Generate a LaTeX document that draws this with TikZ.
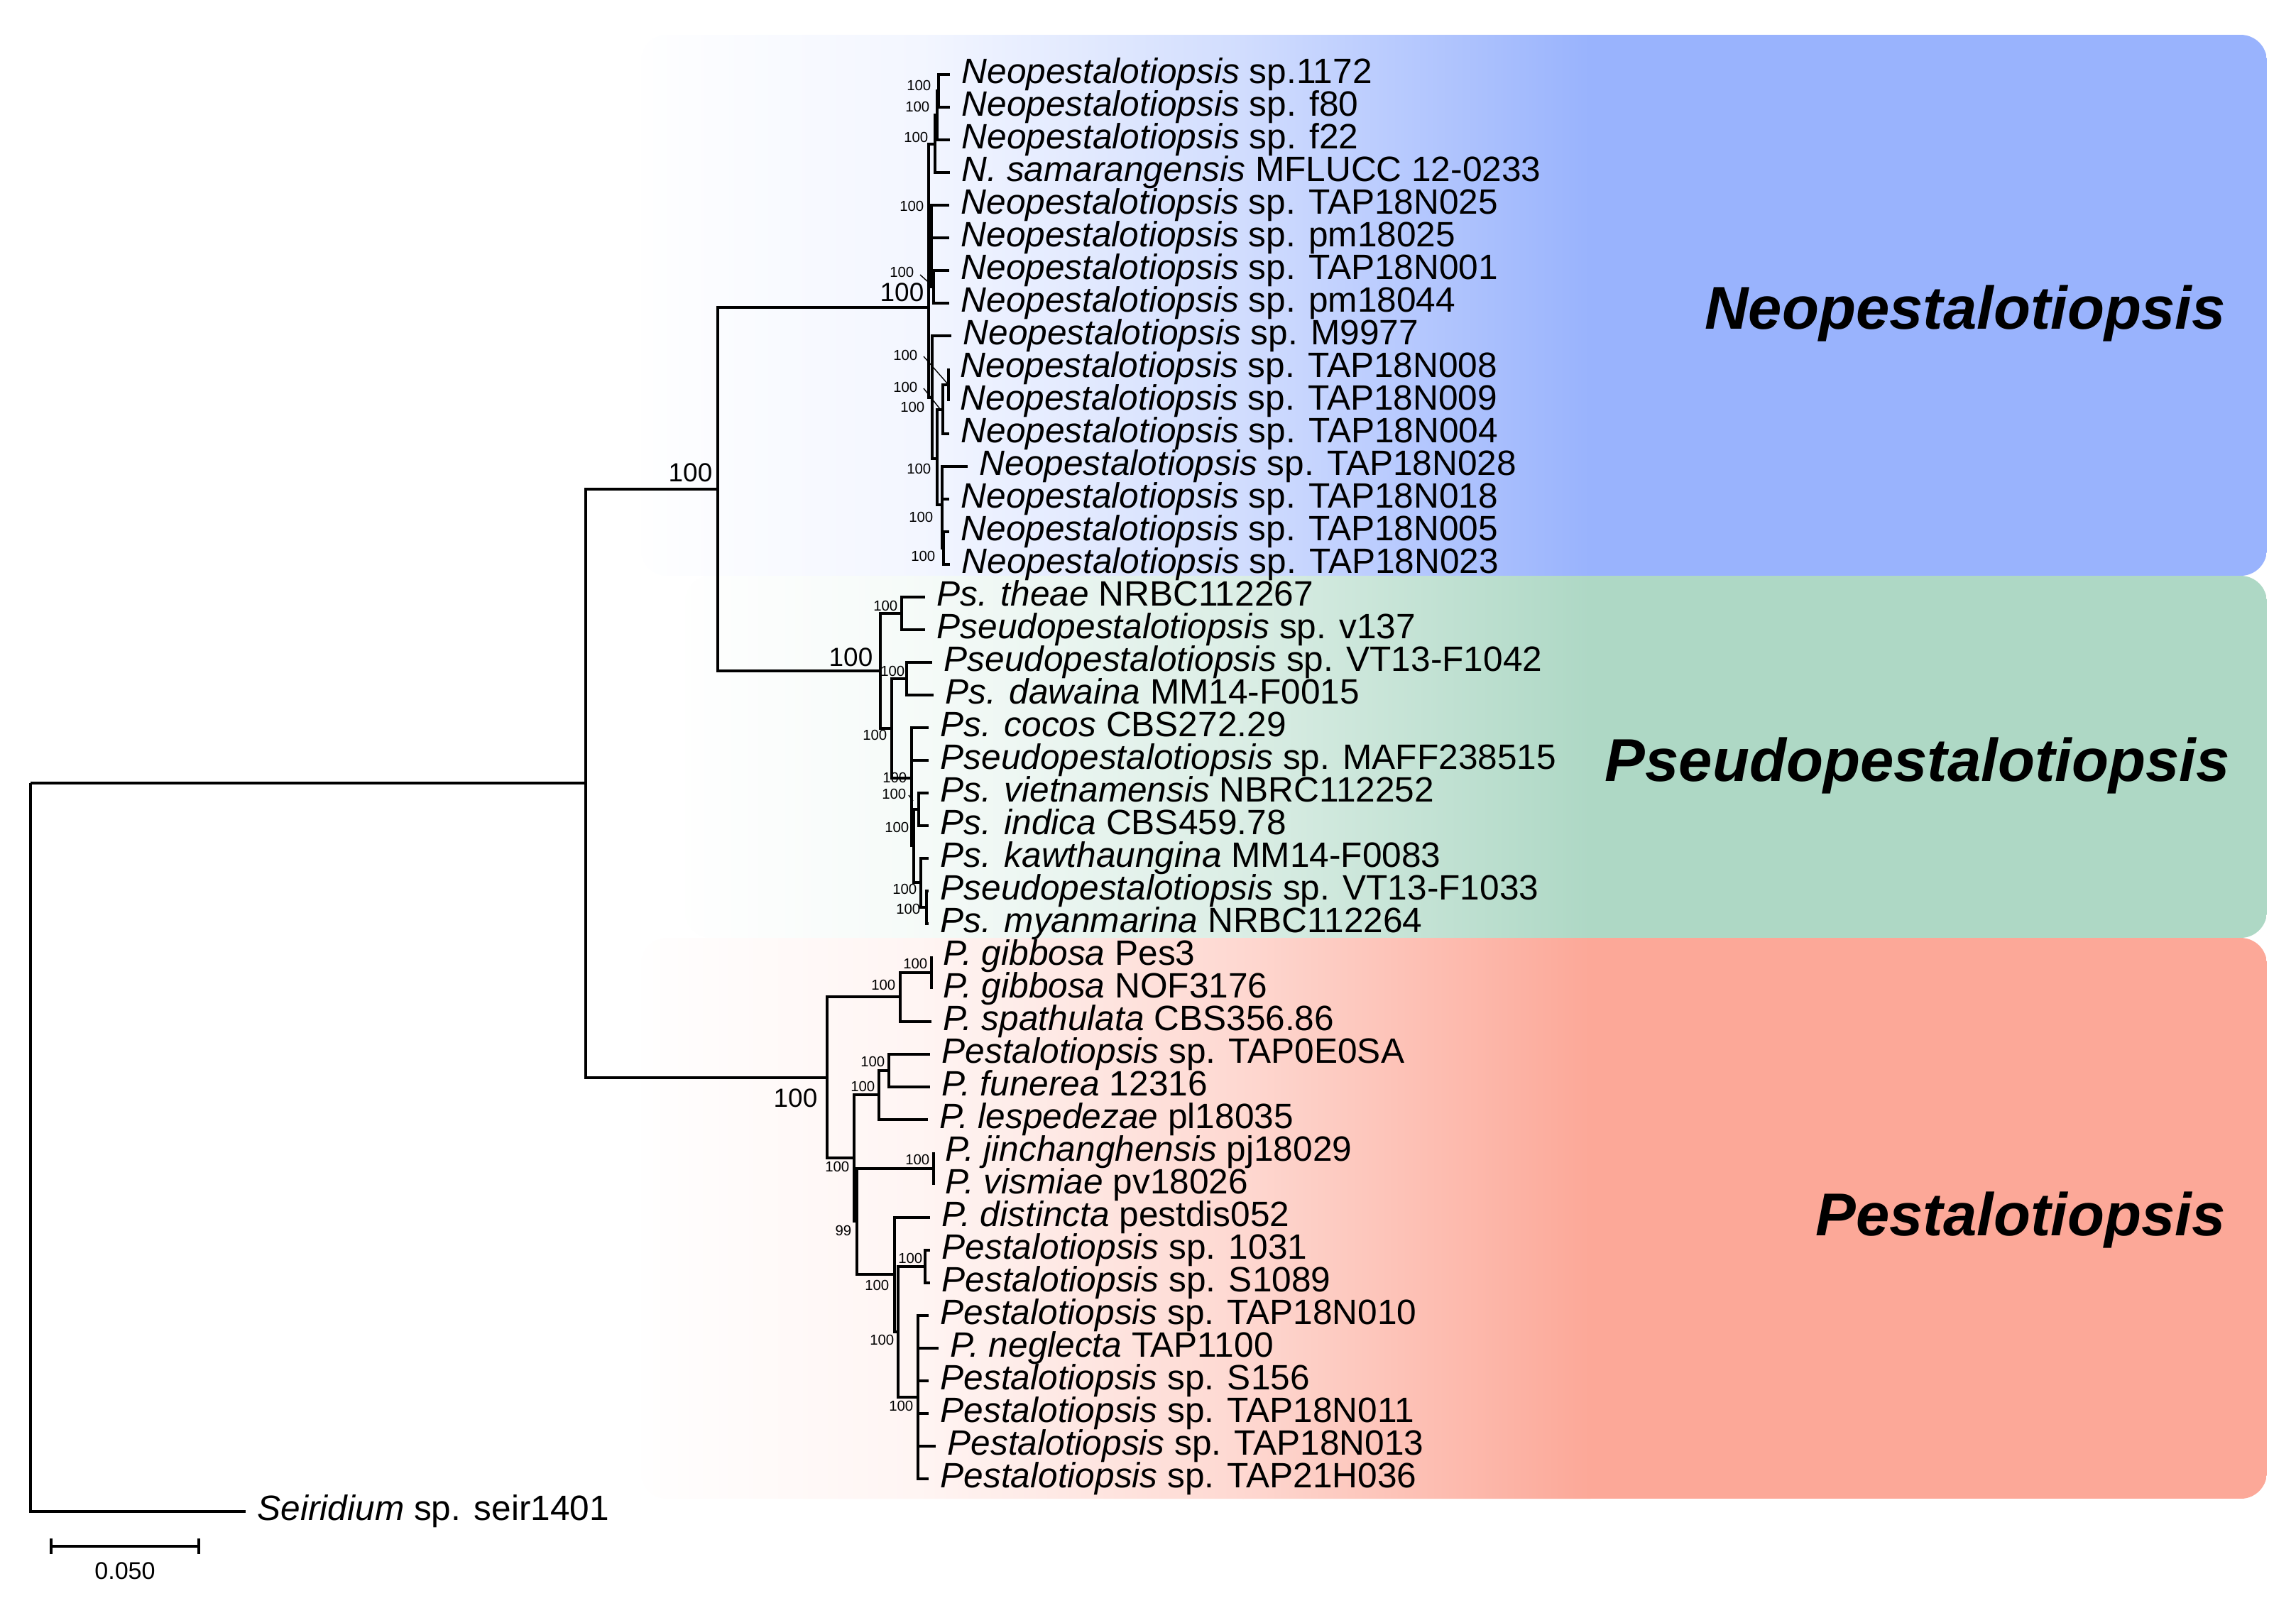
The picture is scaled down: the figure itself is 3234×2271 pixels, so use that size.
\documentclass[tikz,border=0pt]{standalone}
\usepackage{fontspec}
\setmainfont{Liberation Sans}
\definecolor{neoC}{RGB}{153,179,253}
\definecolor{pseC}{RGB}{174,216,197}
\definecolor{pesC}{RGB}{252,168,152}
\newcommand\tip[4]{\coordinate (#1) at (#2,#3); \node[tl] (#1l) at ({#2+16},{#3+12}) {#4};}
\newcommand\cladebox[4]{%
  \begin{scope}
    \clip[rounded corners=0.37cm] (#2,#3) rectangle (3193,#4);
    \shade[left color=#1!1!white, right color=#1!12!white] (#2,#3) rectangle (1302,#4);
    \shade[left color=#1!12!white, right color=#1!45!white] (1300,#3) rectangle (1752,#4);
    \shade[left color=#1!45!white, right color=#1] (1750,#3) rectangle (2240,#4);
    \fill[#1] (2238,#3) rectangle (3193,#4);
  \end{scope}}
\begin{document}
\begin{tikzpicture}[x=0.01cm,y=-0.01cm,
  tl/.style={anchor=base west, inner sep=0pt, font=\fontsize{14.1}{17}\selectfont},
  bs/.style={anchor=east, inner sep=0pt, font=\fontsize{5.8}{7}\selectfont},
  bsbig/.style={anchor=east, inner sep=0pt, font=\fontsize{10.5}{12}\selectfont},
  clade/.style={anchor=base east, inner sep=0pt, font=\fontsize{24.2}{29}\selectfont\bfseries\itshape},
  br/.style={line width=1.1pt},
  ptr/.style={line width=0.4pt}]
\fill[white] (0,0) rectangle (3234,2271);
\useasboundingbox (0,0) rectangle (3234,2271);
% clade backgrounds
\cladebox{neoC}{903}{49}{811}
\cladebox{pseC}{965}{811}{1321}
\cladebox{pesC}{903}{1321}{2111}
\node[clade] (cN) at (3135,463) {Neopestalotiopsis};
\node[clade] (cPs) at (3141,1100) {Pseudopestalotiopsis};
\node[clade] (cPe) at (3135,1740) {Pestalotiopsis};
% internal nodes
\coordinate (R) at (43,1103);
\coordinate (I) at (825,1103);
\coordinate (NP) at (1011,689);
\coordinate (C0) at (1308,433);
\coordinate (D1) at (1317,203);
\coordinate (D2) at (1320,162);
\coordinate (N1) at (1322,128);
\coordinate (E) at (1312,343);
\coordinate (E2) at (1315,404);
\coordinate (C1) at (1313,560);
\coordinate (C2) at (1320,646);
\coordinate (C3) at (1328,577);
\coordinate (C4) at (1336,542);
\coordinate (C5) at (1327,711);
\coordinate (C6) at (1329,772);
\coordinate (P0) at (1240,945);
\coordinate (P1) at (1270,864);
\coordinate (P2) at (1256,1026);
\coordinate (P3) at (1277,956);
\coordinate (P4) at (1284,1096);
\coordinate (P4b) at (1287,1191);
\coordinate (P5) at (1294,1140);
\coordinate (P6) at (1297,1243);
\coordinate (P7) at (1305,1278);
\coordinate (Q0) at (1165,1518);
\coordinate (Q1) at (1268,1404);
\coordinate (Q2) at (1312,1370);
\coordinate (Q3) at (1203,1631);
\coordinate (Q3b) at (1207,1720);
\coordinate (Q4) at (1238,1542);
\coordinate (Q5) at (1252,1508);
\coordinate (Q6) at (1315,1646);
\coordinate (Q7) at (1260,1795);
\coordinate (Q8) at (1265,1876);
\coordinate (Q9) at (1303,1784);
\coordinate (Q10) at (1293,1968);
% tips
\tip{r0}{1338}{105}{\textit{Neopestalotiopsis} sp.1172}
\tip{r1}{1338}{151}{\textit{Neopestalotiopsis} sp. f80}
\tip{r2}{1338}{197}{\textit{Neopestalotiopsis} sp. f22}
\tip{r3}{1338}{243}{\textit{N. samarangensis} MFLUCC 12-0233}
\tip{r4}{1337}{289}{\textit{Neopestalotiopsis} sp. TAP18N025}
\tip{r5}{1337}{335}{\textit{Neopestalotiopsis} sp. pm18025}
\tip{r6}{1337}{381}{\textit{Neopestalotiopsis} sp. TAP18N001}
\tip{r7}{1337}{427}{\textit{Neopestalotiopsis} sp. pm18044}
\tip{r8}{1340}{473}{\textit{Neopestalotiopsis} sp. M9977}
\tip{r9}{1336}{519}{\textit{Neopestalotiopsis} sp. TAP18N008}
\tip{r10}{1336}{565}{\textit{Neopestalotiopsis} sp. TAP18N009}
\tip{r11}{1337}{611}{\textit{Neopestalotiopsis} sp. TAP18N004}
\tip{r12}{1363}{657}{\textit{Neopestalotiopsis} sp. TAP18N028}
\tip{r13}{1337}{703}{\textit{Neopestalotiopsis} sp. TAP18N018}
\tip{r14}{1337}{749}{\textit{Neopestalotiopsis} sp. TAP18N005}
\tip{r15}{1338}{795}{\textit{Neopestalotiopsis} sp. TAP18N023}
\tip{r16}{1303}{841}{\textit{Ps. theae} NRBC112267}
\tip{r17}{1303}{887}{\textit{Pseudopestalotiopsis} sp. v137}
\tip{r18}{1313}{933}{\textit{Pseudopestalotiopsis} sp. VT13-F1042}
\tip{r19}{1315}{979}{\textit{Ps. dawaina} MM14-F0015}
\tip{r20}{1308}{1025}{\textit{Ps. cocos} CBS272.29}
\tip{r21}{1308}{1071}{\textit{Pseudopestalotiopsis} sp. MAFF238515}
\tip{r22}{1308}{1117}{\textit{Ps. vietnamensis} NBRC112252}
\tip{r23}{1308}{1163}{\textit{Ps. indica} CBS459.78}
\tip{r24}{1308}{1209}{\textit{Ps. kawthaungina} MM14-F0083}
\tip{r25}{1308}{1255}{\textit{Pseudopestalotiopsis} sp. VT13-F1033}
\tip{r26}{1308}{1301}{\textit{Ps. myanmarina} NRBC112264}
\tip{r27}{1312}{1347}{\textit{P. gibbosa} Pes3}
\tip{r28}{1312}{1393}{\textit{P. gibbosa} NOF3176}
\tip{r29}{1312}{1439}{\textit{P. spathulata} CBS356.86}
\tip{r30}{1310}{1485}{\textit{Pestalotiopsis} sp. TAP0E0SA}
\tip{r31}{1310}{1531}{\textit{P. funerea} 12316}
\tip{r32}{1307}{1577}{\textit{P. lespedezae} pl18035}
\tip{r33}{1315}{1623}{\textit{P. jinchanghensis} pj18029}
\tip{r34}{1315}{1669}{\textit{P. vismiae} pv18026}
\tip{r35}{1310}{1715}{\textit{P. distincta} pestdis052}
\tip{r36}{1310}{1761}{\textit{Pestalotiopsis} sp. 1031}
\tip{r37}{1310}{1807}{\textit{Pestalotiopsis} sp. S1089}
\tip{r38}{1308}{1853}{\textit{Pestalotiopsis} sp. TAP18N010}
\tip{r39}{1322}{1899}{\textit{P. neglecta} TAP1100}
\tip{r40}{1308}{1945}{\textit{Pestalotiopsis} sp. S156}
\tip{r41}{1308}{1991}{\textit{Pestalotiopsis} sp. TAP18N011}
\tip{r42}{1318}{2037}{\textit{Pestalotiopsis} sp. TAP18N013}
\tip{r43}{1308}{2083}{\textit{Pestalotiopsis} sp. TAP21H036}
\tip{r44}{346}{2129}{\textit{Seiridium} sp. seir1401}
% branches
\foreach \p/\c in {R/I, R/r44, I/NP, I/Q0, NP/C0, NP/P0,
  C0/D1, C0/E, C0/C1, D1/D2, D1/r3, D2/N1, D2/r2, N1/r0, N1/r1,
  E/r4, E/r5, E/E2, E2/r6, E2/r7, C1/r8, C1/C2, C2/C3, C2/C5,
  C3/C4, C3/r11, C4/r9, C4/r10, C5/r12, C5/r13, C5/C6, C6/r14, C6/r15,
  P0/P1, P0/P2, P1/r16, P1/r17, P2/P3, P2/P4, P3/r18, P3/r19,
  P4/r20, P4/r21, P4/P4b, P4b/P5, P4b/P6, P5/r22, P5/r23, P6/r24, P6/P7, P7/r25, P7/r26,
  Q0/Q1, Q0/Q3, Q1/Q2, Q1/r29, Q2/r27, Q2/r28, Q3/Q4, Q3/Q3b, Q4/Q5, Q4/r32,
  Q5/r30, Q5/r31, Q3b/Q6, Q3b/Q7, Q6/r33, Q6/r34, Q7/r35, Q7/Q8, Q8/Q9, Q8/Q10,
  Q9/r36, Q9/r37, Q10/r38, Q10/r39, Q10/r40, Q10/r41, Q10/r42, Q10/r43}
  \draw[br] (\p) |- (\c);
% support values
\node[bsbig] (bNP) at (1004,666) {100};
\node[bsbig] (bC0) at (1302,412) {100};
\node[bsbig] (bP0) at (1230,926) {100};
\node[bsbig] (bQ0) at (1152,1547) {100};
\node[bs] (bN1) at (1312,120) {100};
\node[bs] (bD2) at (1310,150) {100};
\node[bs] (bD1) at (1308,193) {100};
\node[bs] (bE) at (1302,290) {100};
\node[bs] (bE2) at (1288,383) {100};
\node[bs] (bC4) at (1293,500) {100};
\node[bs] (bC3) at (1293,545) {100};
\node[bs] (bC1) at (1303,573) {100};
\node[bs] (bC2) at (1312,660) {100};
\node[bs] (bC5) at (1315,728) {100};
\node[bs] (bC6) at (1318,783) {100};
\draw[ptr] (bE2.east) ++(8,4) -- (E2);
\draw[ptr] (bC4.east) ++(8,2) -- (C4);
\draw[ptr] (bC3.east) ++(8,2) -- (1324,576);
\node[bs] (bP1) at (1265,853) {100};
\node[bs] (bP3) at (1275,945) {100};
\node[bs] (bP2) at (1250,1035) {100};
\node[bs] (bP4) at (1278,1095) {100};
\node[bs] (bP5) at (1277,1118) {100};
\node[bs] (bP4b) at (1281,1165) {100};
\node[bs] (bP6) at (1292,1252) {100};
\node[bs] (bP7) at (1297,1280) {100};
\draw[ptr] (bP5.east) ++(3,2) -- (1286,1128);
\node[bs] (bQ2) at (1307,1357) {100};
\node[bs] (bQ1) at (1262,1387) {100};
\node[bs] (bQ5) at (1247,1495) {100};
\node[bs] (bQ4) at (1233,1530) {100};
\node[bs] (bQ3) at (1197,1643) {100};
\node[bs] (bQ6) at (1310,1633) {100};
\node[bs] (bQ3b) at (1200,1733) {99};
\node[bs] (bQ7) at (1253,1810) {100};
\node[bs] (bQ9) at (1300,1772) {100};
\node[bs] (bQ8) at (1260,1887) {100};
\node[bs] (bQ10) at (1287,1980) {100};
% scale bar
\coordinate (s1) at (72,2178);
\coordinate (s2) at (280,2178);
\coordinate (s1a) at (72,2167);
\coordinate (s1b) at (72,2189);
\coordinate (s2a) at (280,2167);
\coordinate (s2b) at (280,2189);
\draw[br] (s1) -- (s2);
\draw[br] (s1a) -- (s1b);
\draw[br] (s2a) -- (s2b);
\node[inner sep=0pt, font=\fontsize{9.7}{11}\selectfont] (sl) at (176,2213) {0.050};
\end{tikzpicture}
\end{document}
